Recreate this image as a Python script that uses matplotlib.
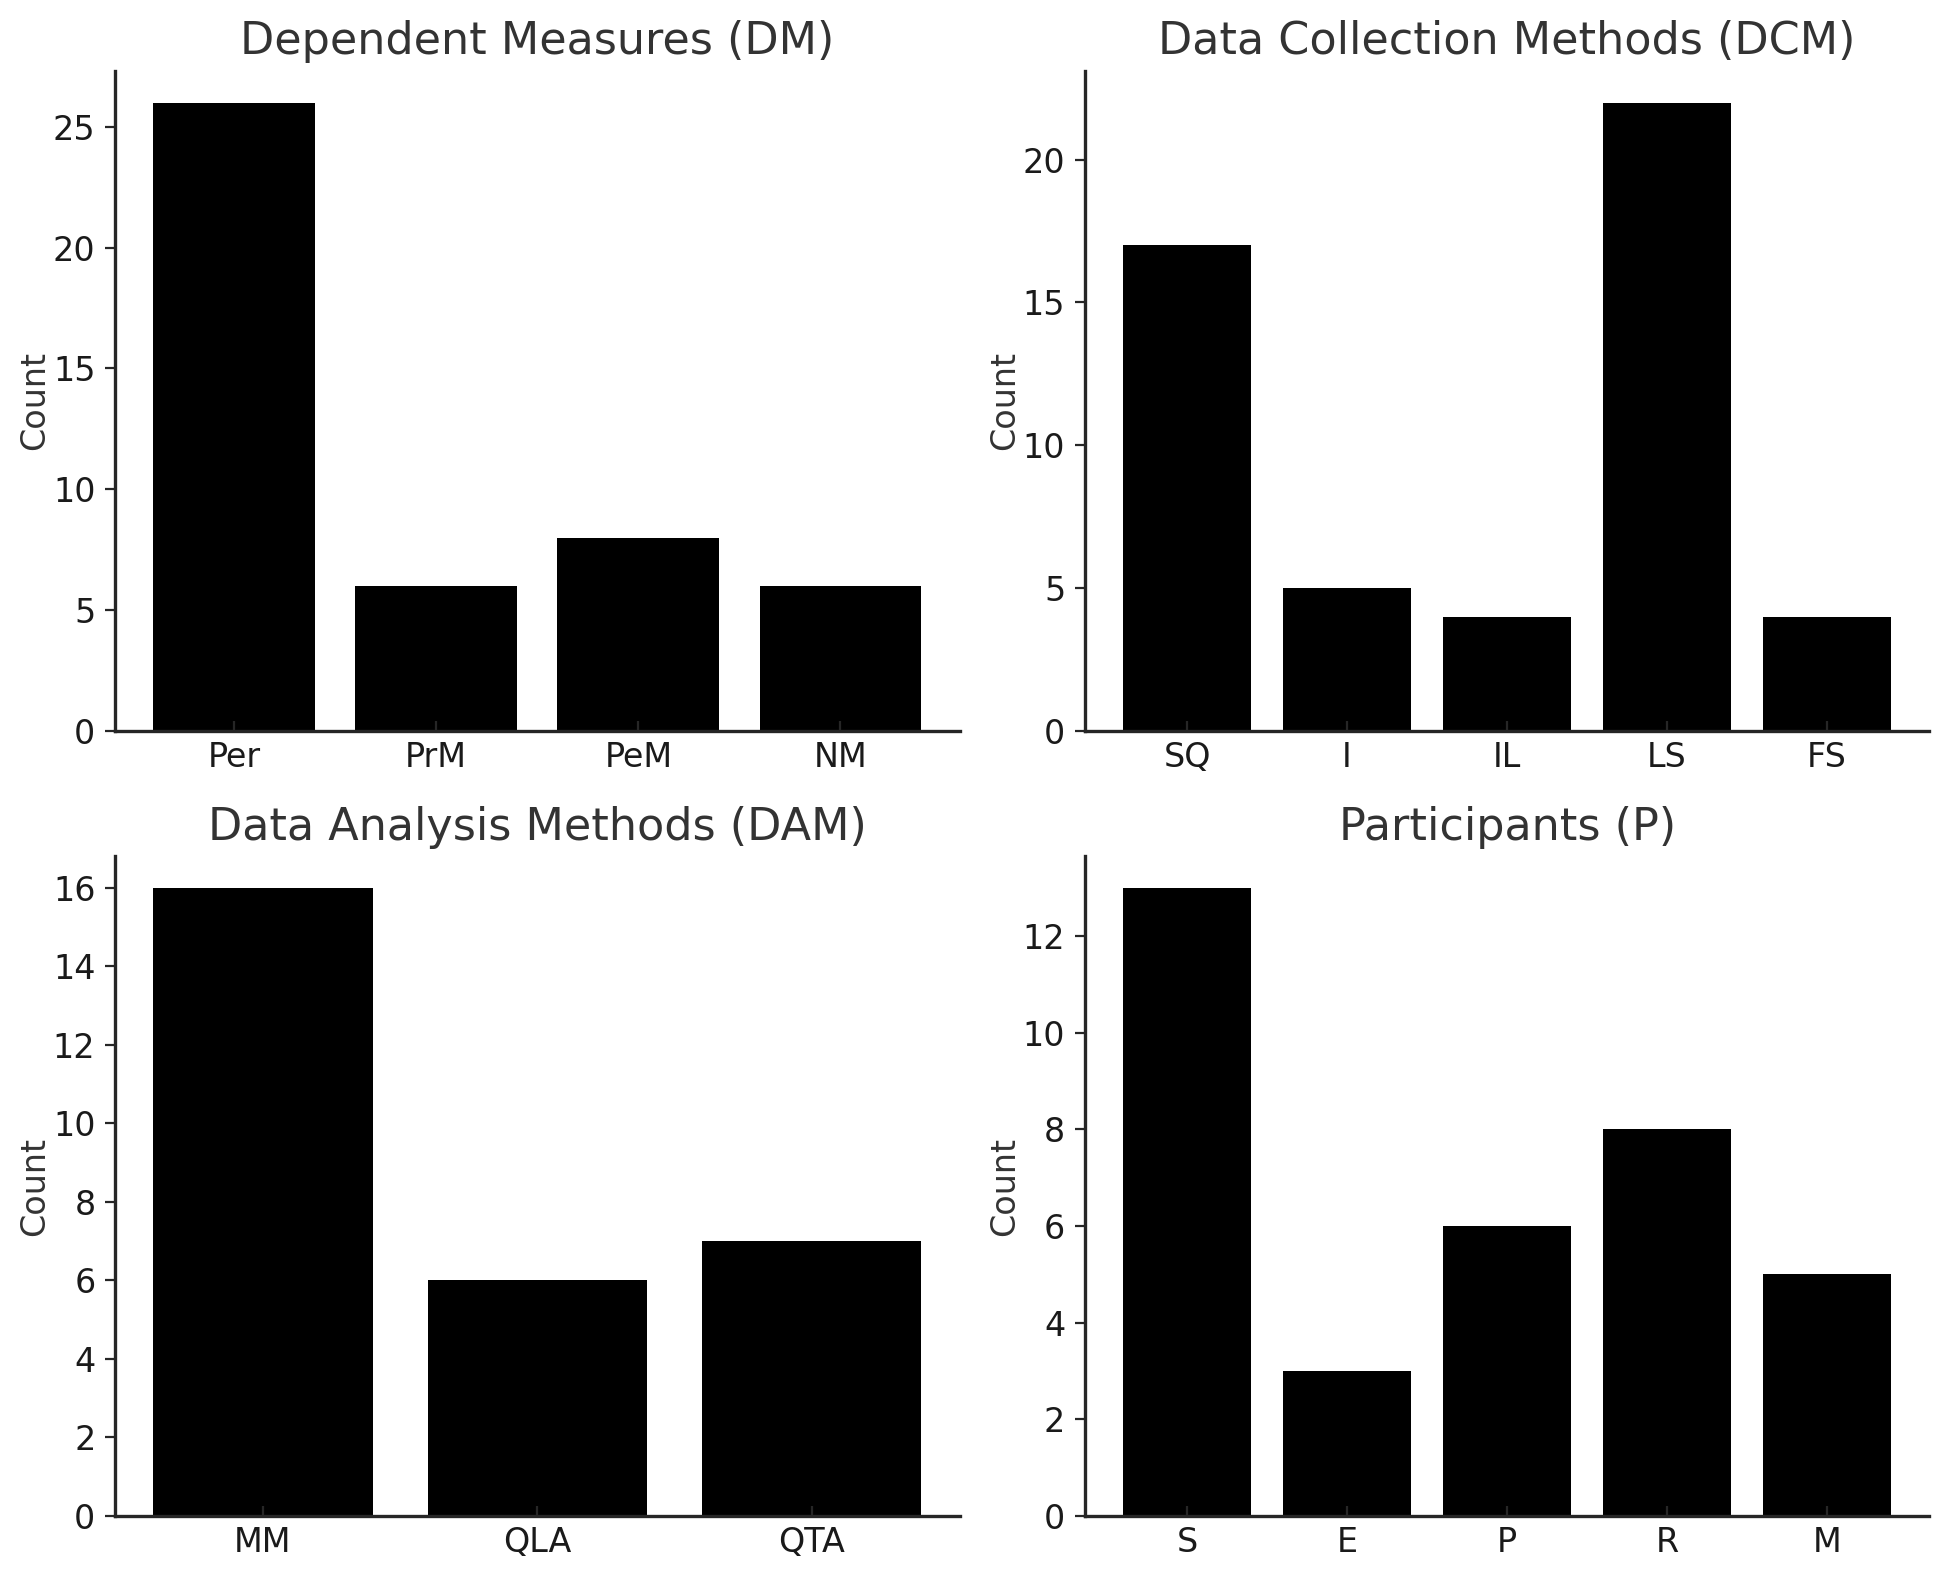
import matplotlib
matplotlib.use('Agg')
import matplotlib.pyplot as plt

# data
dm_labels = ['Per', 'PrM', 'PeM', 'NM']
dm_counts = [26, 6, 8, 6]

dcm_labels = ['SQ', 'I', 'IL', 'LS', 'FS']
dcm_counts = [17, 5, 4, 22, 4]

dam_labels = ['MM', 'QLA', 'QTA']
dam_counts = [16, 6, 7]

p_labels = ['S', 'E', 'P', 'R', 'M']
p_counts = [13, 3, 6, 8, 5]

txt = '#333333'
plt.rcParams.update({
    'font.family': 'DejaVu Sans',
    'text.color': txt,
    'axes.labelcolor': txt,
    'axes.edgecolor': '#262626',
    'xtick.color': '#262626',
    'ytick.color': '#262626',
    'xtick.labelcolor': '#1a1a1a',
    'ytick.labelcolor': '#1a1a1a',
    'xtick.direction': 'in',
    'ytick.direction': 'out',
    'axes.linewidth': 1.2,
})

fig, axs = plt.subplots(2, 2, figsize=(9.735, 7.9), dpi=200)

panels = [
    (axs[0, 0], dm_labels, dm_counts, 'Dependent Measures (DM)'),
    (axs[0, 1], dcm_labels, dcm_counts, 'Data Collection Methods (DCM)'),
    (axs[1, 0], dam_labels, dam_counts, 'Data Analysis Methods (DAM)'),
    (axs[1, 1], p_labels, p_counts, 'Participants (P)'),
]

for ax, labels, counts, title in panels:
    ax.bar(labels, counts, color='black')
    ax.set_title(title, fontsize=16, color=txt)
    ax.set_ylabel('Count', fontsize=12, labelpad=0.5)
    ax.tick_params(labelsize=12)
    ax.spines['top'].set_visible(False)
    ax.spines['right'].set_visible(False)

plt.subplots_adjust(left=0.059, right=0.991, bottom=0.0405, top=0.955,
                    wspace=0.148, hspace=0.19)
plt.savefig('out.png', dpi=200)
